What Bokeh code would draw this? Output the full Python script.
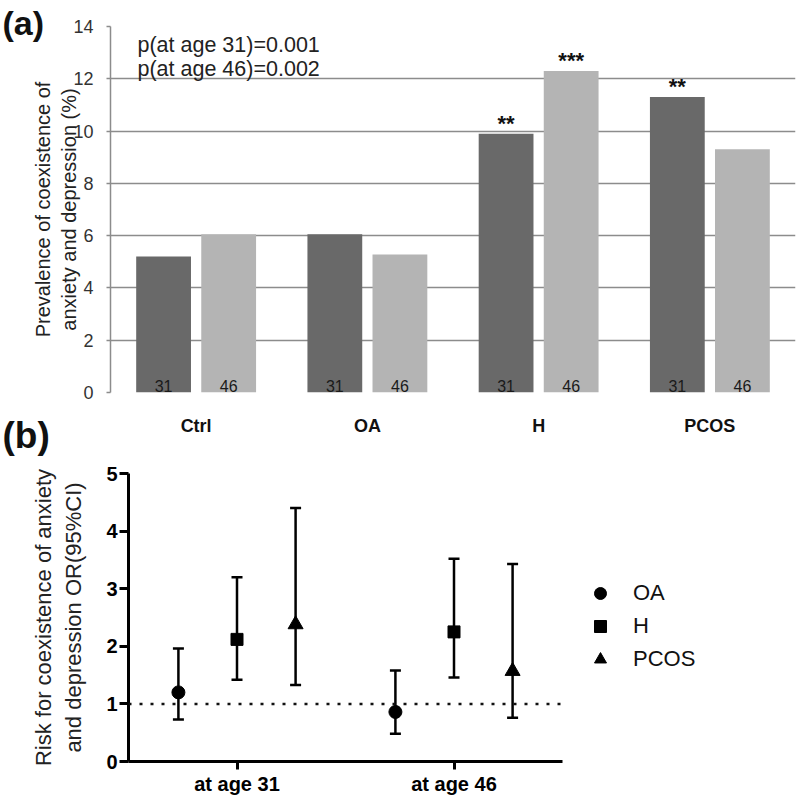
from bokeh.plotting import figure
from bokeh.models import (ColumnDataSource, FactorRange, FixedTicker, Label, Span,
                          Legend, LegendItem, Title)
from bokeh.transform import dodge
from bokeh.layouts import column, row
from bokeh.embed import file_html
from bokeh.resources import INLINE
from bokeh.core.properties import value

FONT = "Liberation Sans"

# ---------------- data: panel (a) ----------------
groups_a = ["Ctrl", "OA", "H", "PCOS"]
prev_31 = [5.2, 6.05, 9.9, 11.3]
prev_46 = [6.05, 5.28, 12.3, 9.3]
sig_31 = ["", "", "**", "**"]
sig_46 = ["", "", "***", ""]
age_lab_31 = ["31", "31", "31", "31"]
age_lab_46 = ["46", "46", "46", "46"]
p_texts = ["p(at age 31)=0.001", "p(at age 46)=0.002"]
yticks_a = [0, 2, 4, 6, 8, 10, 12, 14]

# ---------------- data: panel (b) ----------------
ages = ["at age 31", "at age 46"]
groups_b = ["OA", "H", "PCOS"]
oa_or = [1.20, 0.86]
oa_lo = [0.73, 0.48]
oa_hi = [1.96, 1.58]
h_or = [2.12, 2.25]
h_lo = [1.42, 1.46]
h_hi = [3.20, 3.52]
pcos_or = [2.38, 1.57]
pcos_lo = [1.33, 0.76]
pcos_hi = [4.40, 3.43]
yticks_b = [0, 1, 2, 3, 4, 5]

DARK = "#696969"
LIGHT = "#b4b4b4"
GRID = "#8c8c8c"

# ================= panel (a) =================
FW1, FH1 = 685, 366
p1 = figure(frame_width=FW1, frame_height=FH1,
            x_range=FactorRange(*groups_a), y_range=(0, 14),
            output_backend="svg", toolbar_location=None,
            min_border_left=110, min_border_right=3, min_border_top=26, min_border_bottom=64)
p1.title.text = "(a)"
p1.title.align = "left"
p1.title.offset = -108
p1.title.standoff = -30
p1.title.text_font = FONT
p1.title.text_font_size = "34px"
p1.title.text_font_style = "bold"
p1.title.text_color = "#111111"
p1.add_layout(Title(text="(b)", align="left", offset=-108, standoff=-47,
                    vertical_align="top", text_font=FONT, text_font_size="37px",
                    text_font_style="bold", text_color="#111111"), "below")
p1.outline_line_color = None
p1.xgrid.visible = False
p1.ygrid.grid_line_color = GRID
p1.ygrid.grid_line_width = 1.5
p1.yaxis.ticker = FixedTicker(ticks=yticks_a)
p1.ygrid.ticker = FixedTicker(ticks=yticks_a)
ya = p1.yaxis[0]
ya.axis_line_color = GRID
ya.axis_line_width = 1.5
ya.major_tick_line_color = GRID
ya.major_tick_line_width = 1.5
ya.major_tick_out = 4
ya.major_tick_in = 0
ya.minor_tick_out = 0
ya.minor_tick_in = 0
ya.major_label_text_font = FONT
ya.major_label_text_font_size = "18px"
ya.major_label_text_color = "#333333"
ya.major_label_standoff = 13
ya.axis_label = "Prevalence of coexistence of\nanxiety and depression (%)"
ya.axis_label_text_font = FONT
ya.axis_label_text_font_size = "20px"
ya.axis_label_text_font_style = "normal"
ya.axis_label_text_color = "#222222"
ya.axis_label_standoff = -10

xa = p1.xaxis[0]
xa.axis_line_color = None
xa.major_tick_line_color = None
xa.minor_tick_line_color = None
xa.major_label_text_font = FONT
xa.major_label_text_font_size = "18px"
xa.major_label_text_font_style = "bold"
xa.major_label_text_color = "#111111"
xa.major_label_standoff = 17

src_a = ColumnDataSource(dict(g=groups_a, v31=prev_31, v46=prev_46,
                              s31=sig_31, s46=sig_46, l31=age_lab_31, l46=age_lab_46))
OFF = 0.19
p1.vbar(x=dodge("g", -OFF, range=p1.x_range), top="v31", width=0.32, source=src_a,
        fill_color=DARK, line_color=None)
p1.vbar(x=dodge("g", OFF, range=p1.x_range), top="v46", width=0.32, source=src_a,
        fill_color=LIGHT, line_color=None)
for off, col in ((-OFF, "l31"), (OFF, "l46")):
    p1.text(x=dodge("g", off, range=p1.x_range), y=0, text=col, source=src_a,
            text_align="center", text_baseline="bottom", y_offset=-1,
            text_font=value(FONT), text_font_size="16px", text_color="#1a1a1a")
for off, col, top in ((-OFF, "s31", "v31"), (OFF, "s46", "v46")):
    p1.text(x=dodge("g", off, range=p1.x_range), y=top, text=col, source=src_a,
            text_align="center", text_baseline="bottom", y_offset=2,
            text_font=value(FONT), text_font_size="22px", text_font_style="bold",
            text_color="#111111")

for t, yy in zip(p_texts, (FH1 - 18, FH1 - 42)):
    p1.add_layout(Label(x=27, y=yy, x_units="screen", y_units="screen", text=t,
                        text_baseline="middle", text_font=FONT, text_font_size="21.5px",
                        text_color="#222222"))

# ================= panel (b) =================
FW2, FH2 = 434, 288
p2 = figure(frame_width=FW2, frame_height=FH2,
            x_range=FactorRange(*ages), y_range=(0, 5),
            output_backend="svg", toolbar_location=None, title_location=None,
            min_border_left=128, min_border_right=0, min_border_top=17, min_border_bottom=39)
p2.outline_line_color = None
p2.xgrid.visible = False
p2.ygrid.visible = False
p2.yaxis.ticker = FixedTicker(ticks=yticks_b)
yb = p2.yaxis[0]
yb.axis_line_color = "black"
yb.axis_line_width = 3
yb.major_tick_line_width = 3
yb.major_tick_out = 9
yb.major_tick_in = 0
yb.minor_tick_out = 0
yb.minor_tick_in = 0
yb.major_label_text_font = FONT
yb.major_label_text_font_size = "20px"
yb.major_label_text_font_style = "bold"
yb.major_label_text_color = "black"
yb.major_label_standoff = 2
yb.axis_label = "Risk for coexistence of anxiety\nand depression OR(95%CI)"
yb.axis_label_text_font = FONT
yb.axis_label_text_font_size = "22px"
yb.axis_label_text_font_style = "normal"
yb.axis_label_text_color = "#222222"
yb.axis_label_standoff = 17

xb = p2.xaxis[0]
xb.axis_line_color = "black"
xb.axis_line_width = 3
xb.major_tick_line_width = 3
xb.major_tick_out = 8
xb.major_tick_in = 0
xb.major_label_text_font = FONT
xb.major_label_text_font_size = "20px"
xb.major_label_text_font_style = "bold"
xb.major_label_text_color = "black"
xb.major_label_standoff = 3

p2.add_layout(Span(location=1, dimension="width", line_color="#111111",
                   line_width=2.5, line_dash="3 8"))

series = [("OA", oa_or, oa_lo, oa_hi, -0.27, "circle", 13),
          ("H", h_or, h_lo, h_hi, 0.0, "square", 12),
          ("PCOS", pcos_or, pcos_lo, pcos_hi, 0.27, "triangle", 15)]
items = []
for name, orv, lo, hi, off, mk, sz in series:
    s = ColumnDataSource(dict(a=ages, y=orv, lo=lo, hi=hi))
    xx = dodge("a", off, range=p2.x_range)
    p2.segment(x0=xx, y0="lo", x1=xx, y1="hi", source=s, line_color="black", line_width=2.5)
    p2.scatter(x=xx, y="hi", source=s, marker="dash", size=11, line_color="black", line_width=2.5)
    p2.scatter(x=xx, y="lo", source=s, marker="dash", size=11, line_color="black", line_width=2.5)
    r = p2.scatter(x=xx, y="y", source=s, marker=mk, size=sz, fill_color="black",
                   line_color="black")
    items.append(LegendItem(label=name, renderers=[r]))

legend = Legend(items=items, location=(23, 87), border_line_color=None,
                background_fill_alpha=0, label_text_font=FONT, label_text_font_size="22px",
                label_text_color="#111111", glyph_width=30, glyph_height=30,
                label_standoff=18, spacing=3, padding=10, margin=13)
p2.add_layout(legend, "right")

layout = column(row(p1), row(p2))
open("out.html", "w").write(file_html(layout, INLINE))
